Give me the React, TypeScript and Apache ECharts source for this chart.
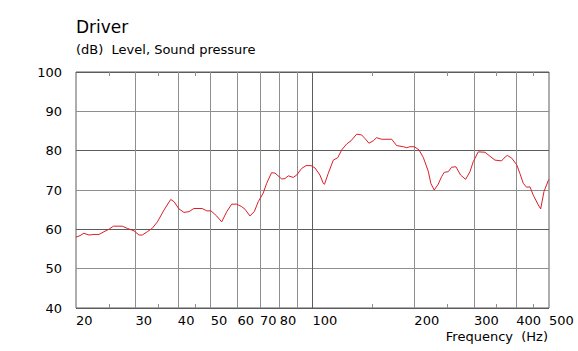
import React, { useEffect, useRef } from "react";
import * as echarts from "echarts";

const freqs = [
  20.0, 20.55, 21.1, 21.85, 22.6, 23.4, 24.2, 25.0, 25.8, 27.4, 28.35, 29.7, 30.7, 31.4, 32.5, 33.6,
  34.8, 36.4, 38.1, 39.0, 40.3, 41.7, 43.15, 44.6, 47.2, 48.7, 50.1, 52.1, 53.9, 55.8, 57.7, 59.7,
  61.8, 63.2, 65.3, 67.3, 69.1, 71.5, 73.2, 75.7, 77.5, 81.1, 82.9, 84.8, 87.7, 89.8, 92.9, 95.7,
  99.0, 101.7, 105.2, 107.6, 108.5, 111.3, 115.2, 118.7, 122, 126.2, 129.9, 135.1, 139.7, 142.9,
  146.8, 151.2, 154.7, 160.1, 171.4, 177.3, 185.5, 189.8, 194.1, 199.9, 206.4, 212.5, 219.8, 223.9,
  229, 235.3, 240.8, 245.1, 251.9, 257.8, 265.4, 274, 283.5, 292, 298.6, 308.9, 323.3, 334.5,
  346.1, 362.2, 368, 376.3, 388, 401.4, 410.2, 419.6, 429.4, 439.2, 449.2, 464.8, 472.5, 483.2,
  497.6, 500,
];
const levels = [
  58.0, 58.4, 59.0, 58.55, 58.7, 58.7, 59.4, 60.0, 60.8, 60.8, 60.25, 59.6, 58.55, 58.55, 59.4, 60.25,
  61.9, 64.9, 67.6, 67.0, 65.2, 64.3, 64.5, 65.3, 65.3, 64.7, 64.7, 63.4, 61.9, 64.5, 66.4, 66.4,
  65.75, 65.1, 63.4, 64.5, 67.0, 69.2, 71.7, 74.4, 74.3, 72.8, 72.9, 73.6, 73.2, 73.8, 75.5, 76.2,
  76.2, 75.6, 73.8, 71.7, 71.45, 74.2, 77.6, 78.2, 80.2, 81.7, 82.5, 84.2, 84.0, 83.1,
  81.9, 82.5, 83.3, 82.9, 82.9, 81.3, 81.0, 80.75, 81.0, 81.0, 80.2, 78.3, 74.8, 71.6,
  70.0, 71.5, 73.4, 74.5, 74.65, 75.8, 75.9, 73.8, 72.7, 74.65, 77.2, 79.7, 79.6, 78.6,
  77.6, 77.4, 78.1, 78.8, 78.1, 76.4, 74.2, 71.7, 70.7, 70.8, 68.7, 66.2, 65.2, 69.6,
  72.4, 72.7,
];

const xLabelValues = [20, 30, 40, 50, 60, 70, 80, 100, 200, 300, 400, 500];
const xGridValues = [30, 40, 50, 60, 70, 80, 90, 100, 200, 300, 400];
const xMinorTicks = [25, 35, 45, 150, 250, 350, 450];
const title = "Driver";
const subtitle = "(dB)  Level, Sound pressure";
const xName = "Frequency  (Hz)";

const FONT = "DejaVu Sans";
const DARK = "#5c5c5c";
const LIGHT = "#8e8e8e";

export default function App() {
  const ref = useRef<HTMLDivElement>(null);
  useEffect(() => {
    if (!ref.current) return;
    const chart = echarts.init(ref.current, null, { renderer: "svg" });
    const data = freqs.map((f, i) => [f, levels[i]]);
    const commonX = {
      type: "log",
      logBase: 10,
      min: 20,
      max: 500,
      axisLine: { show: false },
      splitLine: { show: false },
      minorTick: { show: false },
      minorSplitLine: { show: false },
    };
    chart.setOption({
      animation: false,
      backgroundColor: "#ffffff",
      textStyle: { fontFamily: FONT },
      grid: {
        left: 76,
        top: 72,
        width: 473,
        height: 236,
        show: true,
        borderColor: DARK,
        borderWidth: 1,
        backgroundColor: "transparent",
      },
      xAxis: [
        {
          ...commonX,
          position: "bottom",
          axisTick: {
            show: true,
            inside: true,
            length: 4,
            customValues: xMinorTicks,
            lineStyle: { color: LIGHT, width: 1 },
          },
          axisLabel: {
            customValues: xLabelValues,
            align: "left",
            margin: 6,
            fontSize: 13,
            color: "#000",
            fontFamily: FONT,
            formatter: (v: number) => String(Math.round(v)),
          },
        },
        {
          ...commonX,
          position: "top",
          axisTick: {
            show: true,
            inside: true,
            length: 4,
            customValues: xMinorTicks,
            lineStyle: { color: LIGHT, width: 1 },
          },
          axisLabel: { show: false },
        },
      ],
      yAxis: {
        type: "value",
        min: 40,
        max: 100,
        interval: 10,
        axisLine: { show: false },
        axisTick: { show: false },
        axisLabel: { fontSize: 13, color: "#000", margin: 14, fontFamily: FONT },
        splitLine: { show: true, lineStyle: { color: [DARK, LIGHT], width: 1 } },
      },
      graphic: [
        {
          type: "text",
          left: 76,
          top: 18,
          style: { text: title, font: `17px '${FONT}'`, fill: "#000" },
        },
        {
          type: "text",
          left: 76,
          top: 43,
          style: { text: subtitle, font: `13px '${FONT}'`, fill: "#000" },
        },
        {
          type: "text",
          right: 30,
          top: 330,
          style: { text: xName, font: `13px '${FONT}'`, fill: "#000" },
        },
      ],
      series: [
        {
          type: "line",
          xAxisIndex: 0,
          data: [[20, 40]],
          showSymbol: false,
          lineStyle: { opacity: 0 },
          silent: true,
          z: 1,
          markLine: {
            silent: true,
            symbol: ["none", "none"],
            label: { show: false },
            lineStyle: { type: "solid", width: 1, color: LIGHT },
            z: 1,
            data: xGridValues.map((v) => ({
              xAxis: v,
              lineStyle: { type: "solid", width: 1, color: v === 100 ? DARK : LIGHT },
            })),
          },
        },
        {
          type: "line",
          xAxisIndex: 0,
          data,
          showSymbol: false,
          smooth: false,
          lineStyle: { color: "#dc1e28", width: 1 },
          z: 5,
        },
      ],
    });
    return () => chart.dispose();
  }, []);
  return (
    <div
      ref={ref}
      style={{ position: "absolute", left: 0, top: 0, width: 578, height: 351, background: "#fff" }}
    />
  );
}
